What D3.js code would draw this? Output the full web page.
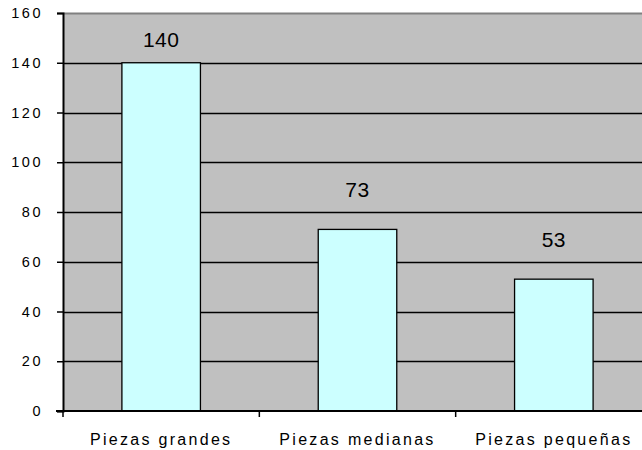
<!DOCTYPE html>
<html>
<head>
<meta charset="utf-8">
<script src="https://cdn.jsdelivr.net/npm/d3@7/dist/d3.min.js"></script>
<style>
  html, body { margin: 0; padding: 0; background: #fff; }
  svg { display: block; }
  text { font-family: Arial, "Liberation Sans", sans-serif; fill: #000; }
</style>
</head>
<body>
<svg id="chart" width="642" height="450"></svg>
<script>
// Piece counts by size
const categories = ["Piezas grandes", "Piezas medianas", "Piezas pequeñas"];
const values = [140, 73, 53];
const yTicks = [0, 20, 40, 60, 80, 100, 120, 140, 160];

const svg = d3.select("#chart");
const plot = { left: 63, top: 13, right: 652, bottom: 411 };

const x = d3.scaleBand()
  .domain(categories)
  .range([plot.left, plot.right])
  .paddingInner(0.6)
  .paddingOuter(0.3);

const y = d3.scaleLinear().domain([0, 160]).range([plot.bottom, plot.top]);

// Plot background
svg.append("rect")
  .attr("x", plot.left).attr("y", plot.top)
  .attr("width", plot.right - plot.left).attr("height", plot.bottom - plot.top)
  .attr("fill", "#c0c0c0");

// Top border
svg.append("line")
  .attr("x1", plot.left).attr("x2", plot.right)
  .attr("y1", plot.top + 0.5).attr("y2", plot.top + 0.5)
  .attr("stroke", "#808080").attr("stroke-width", 2);

// Horizontal gridlines
svg.append("g")
  .selectAll("line")
  .data(yTicks.filter(d => d > 0 && d < 160))
  .join("line")
  .attr("x1", plot.left).attr("x2", plot.right)
  .attr("y1", d => Math.round(y(d)) + 0.5).attr("y2", d => Math.round(y(d)) + 0.5)
  .attr("stroke", "#000").attr("stroke-width", 1.3);

// Bars
svg.append("g")
  .selectAll("rect")
  .data(values)
  .join("rect")
  .attr("x", (d, i) => x(categories[i]))
  .attr("y", d => y(d))
  .attr("width", x.bandwidth())
  .attr("height", d => y(0) - y(d))
  .attr("fill", "#ccffff")
  .attr("stroke", "#000")
  .attr("stroke-width", 1.3);

// Value labels, kept clear of the top edge of the plot
svg.append("g")
  .selectAll("text")
  .data(values)
  .join("text")
  .attr("x", (d, i) => x(categories[i]) + x.bandwidth() / 2)
  .attr("y", d => Math.max(y(d) - 32, plot.top + 34))
  .attr("text-anchor", "middle")
  .attr("font-size", 21)
  .style("letter-spacing", "0.5px")
  .text(d => d);

// Y axis
const yAxis = svg.append("g")
  .attr("transform", `translate(${plot.left},0)`)
  .call(d3.axisLeft(y).tickValues(yTicks).tickSize(6).tickPadding(14).tickFormat(d3.format("d")));
yAxis.select(".domain").attr("stroke", "#000").attr("stroke-width", 2);
yAxis.selectAll(".tick line").attr("stroke", "#000").attr("stroke-width", 1.5);
yAxis.selectAll(".tick text")
  .attr("font-size", 14.5)
  .attr("font-family", "Arial, 'Liberation Sans', sans-serif")
  .style("letter-spacing", "2.5px");

// X axis with ticks on band boundaries
const step = x.step();
const boundaries = d3.range(categories.length + 1).map(i => plot.left + i * step);
svg.append("line")
  .attr("x1", plot.left - 7).attr("x2", plot.right)
  .attr("y1", plot.bottom).attr("y2", plot.bottom)
  .attr("stroke", "#000").attr("stroke-width", 2);
svg.append("g")
  .selectAll("line")
  .data(boundaries)
  .join("line")
  .attr("x1", d => d).attr("x2", d => d)
  .attr("y1", plot.bottom).attr("y2", plot.bottom + 6)
  .attr("stroke", "#000").attr("stroke-width", 1.5);

svg.append("g")
  .selectAll("text")
  .data(categories)
  .join("text")
  .attr("x", d => x(d) + x.bandwidth() / 2)
  .attr("y", 445)
  .attr("text-anchor", "middle")
  .attr("font-size", 16)
  .style("letter-spacing", "2.3px")
  .text(d => d);
</script>
</body>
</html>
